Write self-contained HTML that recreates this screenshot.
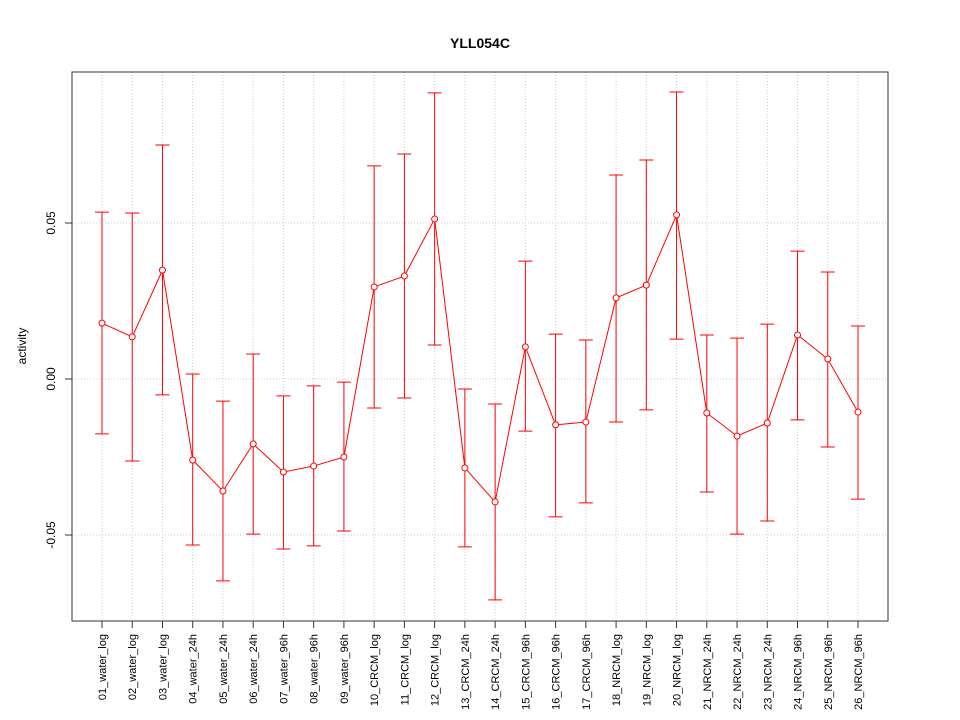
<!DOCTYPE html>
<html><head><meta charset="utf-8"><style>
body{margin:0;background:#fff}
svg{display:block;font-family:"Liberation Sans",Arial,sans-serif}
</style></head><body>
<svg id="chart" width="960" height="720" xmlns="http://www.w3.org/2000/svg">
<text x="480" y="48" text-anchor="middle" font-size="14" font-weight="bold">YLL054C</text>
<text transform="translate(26,346) rotate(-90)" text-anchor="middle" font-size="12">activity</text>
</svg>
<script>
const categories=["01_water_log","02_water_log","03_water_log","04_water_24h","05_water_24h","06_water_24h","07_water_96h","08_water_96h","09_water_96h","10_CRCM_log","11_CRCM_log","12_CRCM_log","13_CRCM_24h","14_CRCM_24h","15_CRCM_96h","16_CRCM_96h","17_CRCM_96h","18_NRCM_log","19_NRCM_log","20_NRCM_log","21_NRCM_24h","22_NRCM_24h","23_NRCM_24h","24_NRCM_96h","25_NRCM_96h","26_NRCM_96h"];
const means=[0.0179,0.0135,0.0349,-0.026,-0.0359,-0.0208,-0.0298,-0.0279,-0.025,0.0295,0.033,0.0513,-0.0285,-0.0394,0.0103,-0.0147,-0.0138,0.026,0.0301,0.0526,-0.0109,-0.0183,-0.0141,0.0141,0.0064,-0.0106];
const uppers=[0.0535,0.0532,0.075,0.0016,-0.0071,0.008,-0.0054,-0.0022,-0.001,0.0683,0.0721,0.0917,-0.0032,-0.008,0.0378,0.0144,0.0125,0.0654,0.0702,0.092,0.0141,0.0131,0.0176,0.041,0.0343,0.017];
const lowers=[-0.0176,-0.0263,-0.0051,-0.0532,-0.0647,-0.0497,-0.0545,-0.0535,-0.0487,-0.0093,-0.0061,0.0109,-0.0538,-0.0708,-0.0167,-0.0442,-0.0397,-0.0138,-0.0099,0.0128,-0.0362,-0.0497,-0.0455,-0.0131,-0.0218,-0.0385];
const yTicks=[-0.05,0,0.05];
const yTickLabels=["-0.05","0.00","0.05"];

const svg=document.getElementById('chart');
const NS="http://www.w3.org/2000/svg";
const L=72,R=888,T=72,B=621;
const xs=i=>102+i*(858-102)/(categories.length-1);
const ys=v=>379-v*3120;
function mk(tag,attrs){const e=document.createElementNS(NS,tag);for(const k in attrs)e.setAttribute(k,attrs[k]);svg.appendChild(e);return e;}

// grid
categories.forEach((c,i)=>{
  const g=mk('line',{x1:xs(i),x2:xs(i),y1:T,y2:B,stroke:'#ccc','stroke-dasharray':'1,2'});
  
  
});
yTicks.forEach((v,i)=>{
  const g=mk('line',{x1:L,x2:R,y1:ys(v),y2:ys(v),stroke:'#ccc','stroke-dasharray':'1,2'});
  
  
  const t=mk('line',{x1:L,x2:L-7,y1:ys(v),y2:ys(v),stroke:'#333'});
  
  
  const lb=mk('text',{transform:`translate(55,${ys(v)}) rotate(-90)`,'text-anchor':'middle','font-size':'12'});
  lb.textContent=yTickLabels[i];
  
  
});
// frame
const fr=mk('rect',{x:L,y:T,width:R-L,height:B-T,fill:'none',stroke:'#333'});


// x ticks/labels
categories.forEach((c,i)=>{
  const t=mk('line',{x1:xs(i),x2:xs(i),y1:B,y2:B+7,stroke:'#333'});
  
  
  const lb=mk('text',{transform:`translate(${xs(i)+4},634) rotate(-90)`,'text-anchor':'end','font-size':'11'});
  lb.textContent=c;
  
  
});
// error bars
categories.forEach((c,i)=>{
  const x=xs(i);
  const e=mk('path',{d:`M${x},${ys(uppers[i])}V${ys(lowers[i])}M${x-7},${ys(uppers[i])}H${x+7}M${x-7},${ys(lowers[i])}H${x+7}`,stroke:'#f00','stroke-width':1,fill:'none'});
  
  
});
// line
const ln=mk('polyline',{points:means.map((v,i)=>xs(i)+','+ys(v)).join(' '),fill:'none',stroke:'#f00'});


means.forEach((v,i)=>{
  const p=mk('circle',{cx:xs(i),cy:ys(v),r:3,fill:'#fff',stroke:'#f00'});
  
  
});
</script>
</body></html>
